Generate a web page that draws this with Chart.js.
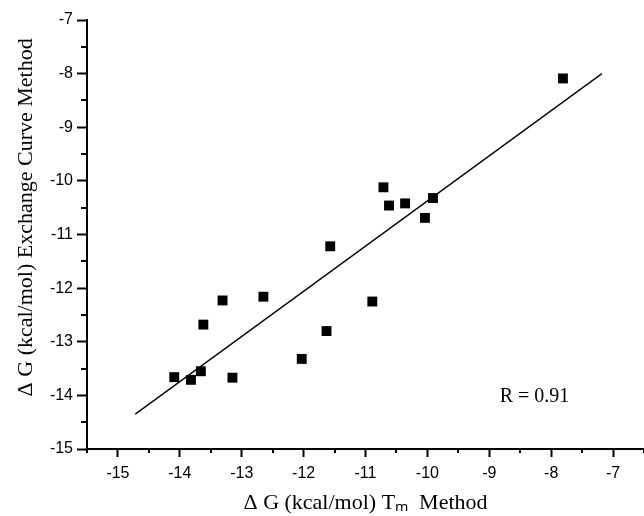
<!DOCTYPE html>
<html>
<head>
<meta charset="utf-8">
<script src="https://cdn.jsdelivr.net/npm/chart.js@4.4.1/dist/chart.umd.min.js"></script>
<style>
html,body{margin:0;padding:0;background:#fff;overflow:hidden;width:644px;height:516px;}
canvas{display:block;}
</style>
</head>
<body>
<canvas id="c" width="651" height="516"></canvas>
<script>
// Data
const tmMethod = [-14.09, -13.82, -13.66, -13.62, -13.31, -13.15, -12.65, -12.03, -11.63, -11.57, -10.89, -10.71, -10.62, -10.36, -10.04, -9.91, -7.81];
const exchangeMethod = [-13.66, -13.71, -13.55, -12.68, -12.23, -13.67, -12.16, -13.32, -12.80, -11.22, -12.25, -10.12, -10.46, -10.42, -10.69, -10.32, -8.09];
const fitX = [-14.72, -7.18];
const fitY = [-14.35, -8.00];
const xTickValues = [-15, -14, -13, -12, -11, -10, -9, -8, -7];
const yTickValues = [-15, -14, -13, -12, -11, -10, -9, -8, -7];
const rLabel = 'R = 0.91';
const rLabelPos = [-8.27, -14.03];
const xTitle = 'Δ G (kcal/mol) Tₘ  Method';
const yTitle = 'Δ G (kcal/mol) Exchange Curve Method';
const yTitleCenter = -10.68;

const points = tmMethod.map((x, i) => ({x: x, y: exchangeMethod[i]}));
const fitLine = fitX.map((x, i) => ({x: x, y: fitY[i]}));

const extras = {
  id: 'extras',
  afterDraw(chart) {
    const ctx = chart.ctx;
    const xs = chart.scales.x, ys = chart.scales.y;
    const area = chart.chartArea;
    ctx.save();
    ctx.strokeStyle = '#000';
    ctx.lineWidth = 2;
    for (let v = xs.min; v <= xs.max + 1e-9; v += 0.5) {
      if (Math.abs(v - Math.round(v)) < 1e-9) continue;
      const px = Math.round(xs.getPixelForValue(v));
      ctx.beginPath();
      ctx.moveTo(px, area.bottom);
      ctx.lineTo(px, area.bottom + 4);
      ctx.stroke();
    }
    for (let v = ys.min; v <= ys.max + 1e-9; v += 0.5) {
      if (Math.abs(v - Math.round(v)) < 1e-9) continue;
      const py = Math.round(ys.getPixelForValue(v));
      ctx.beginPath();
      ctx.moveTo(area.left, py);
      ctx.lineTo(area.left - 6, py);
      ctx.stroke();
    }
    ctx.fillStyle = '#000';
    // R annotation
    ctx.font = '20px "Liberation Serif", "Times New Roman", serif';
    ctx.textAlign = 'center';
    ctx.textBaseline = 'middle';
    ctx.fillText(rLabel, xs.getPixelForValue(rLabelPos[0]), ys.getPixelForValue(rLabelPos[1]));
    // Y axis title
    ctx.font = '22px "Liberation Serif", "Times New Roman", serif';
    ctx.translate(32, ys.getPixelForValue(yTitleCenter));
    ctx.rotate(-Math.PI / 2);
    ctx.textBaseline = 'alphabetic';
    ctx.fillText(yTitle, 0, 0);
    ctx.restore();
  }
};

new Chart(document.getElementById('c'), {
  type: 'scatter',
  data: {
    datasets: [
      {
        type: 'scatter',
        data: points,
        pointStyle: 'rect',
        pointRadius: 7,
        pointHoverRadius: 7,
        backgroundColor: '#000',
        borderColor: '#000',
        borderWidth: 0
      },
      {
        type: 'line',
        data: fitLine,
        borderColor: '#000',
        borderWidth: 1.3,
        pointRadius: 0,
        fill: false,
        tension: 0
      }
    ]
  },
  options: {
    responsive: false,
    animation: false,
    events: [],
    layout: {padding: {top: 20, left: 0, right: 0, bottom: 0}},
    plugins: {legend: {display: false}, tooltip: {enabled: false}},
    scales: {
      x: {
        type: 'linear',
        min: -15.5,
        max: -6.5,
        afterBuildTicks: s => { s.ticks = xTickValues.map(v => ({value: v})); },
        afterFit: s => { s.height = 67; s.paddingLeft = 0; s.paddingRight = 0; },
        border: {display: true, color: '#000', width: 2},
        grid: {display: true, drawOnChartArea: false, drawTicks: true, tickLength: 8, tickWidth: 2, tickColor: '#000', color: '#000'},
        ticks: {color: '#000', padding: 7, maxRotation: 0, autoSkip: false,
          font: {family: '"Liberation Sans", Arial, sans-serif', size: 16}},
        title: {display: true, text: xTitle, color: '#000', padding: {top: 1, bottom: 0},
          font: {family: '"Liberation Serif", "Times New Roman", serif', size: 22}}
      },
      y: {
        type: 'linear',
        min: -15,
        max: -7,
        afterBuildTicks: s => { s.ticks = yTickValues.map(v => ({value: v})); },
        afterFit: s => { s.width = 87; s.paddingTop = 0; s.paddingBottom = 0; },
        border: {display: true, color: '#000', width: 2},
        grid: {display: true, drawOnChartArea: false, drawTicks: true, tickLength: 10, tickWidth: 2, tickColor: '#000', color: '#000'},
        ticks: {color: '#000', padding: 4, autoSkip: false,
          font: {family: '"Liberation Sans", Arial, sans-serif', size: 16}},
        title: {display: false}
      }
    }
  },
  plugins: [extras]
});
</script>
</body>
</html>
